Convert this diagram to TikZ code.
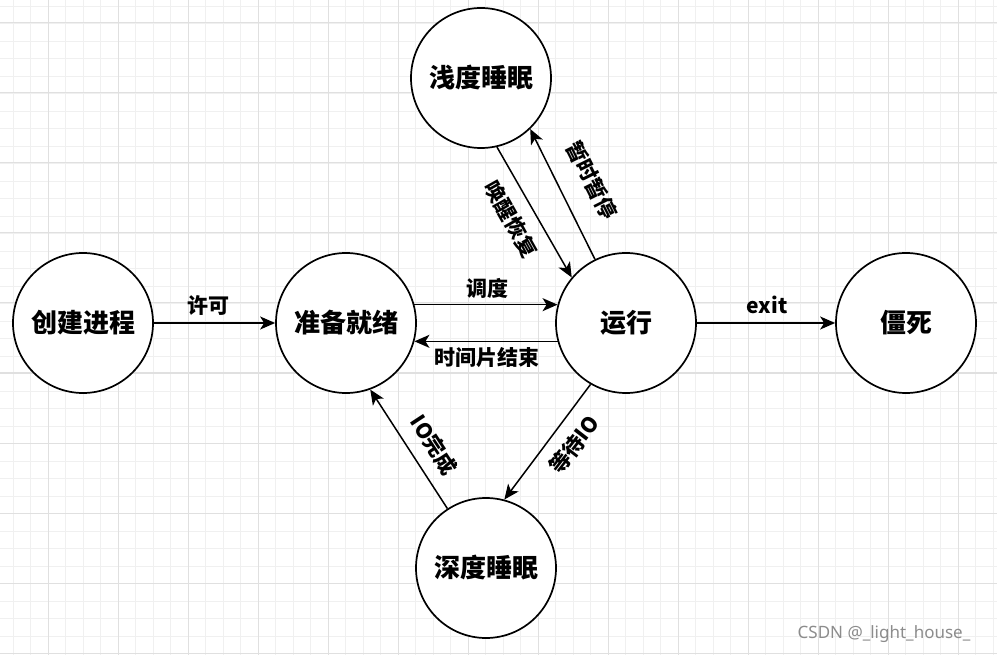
\documentclass[tikz,border=0pt]{standalone}
\usepackage{fontspec}
\newfontfamily\cjk{Noto Sans CJK SC}
\setmainfont{Noto Sans}
\usetikzlibrary{arrows.meta}
\begin{document}
\begin{tikzpicture}[x=1pt,y=-1pt,
  state/.style={circle, draw, line width=1.7pt, minimum size=140pt, inner sep=0pt, fill=white,
    font=\cjk\bfseries\fontsize{26}{30}\selectfont},
  arr/.style={-{Stealth[length=15pt,width=13pt,inset=4pt]}, line width=1.5pt},
  lbl/.style={font=\cjk\bfseries\fontsize{21}{25}\selectfont, inner sep=0pt},
  minorline/.style={draw=black!6, line width=0.8pt},
  majorline/.style={draw=black!12, line width=1pt}]
\useasboundingbox (0,0) rectangle (997,655);
\fill[white] (0,0) rectangle (997,655);
% grid
\foreach \i in {0,...,56} {\draw[minorline] ({13+17.5*\i},0) -- ({13+17.5*\i},655);}
\foreach \i in {0,...,37} {\draw[minorline] (0,{6+17.5*\i}) -- (997,{6+17.5*\i});}
\foreach \i in {0,...,13} {\draw[majorline] ({48+70*\i},0) -- ({48+70*\i},655);}
\foreach \i in {0,...,9} {\draw[majorline] (0,{23+70*\i}) -- (997,{23+70*\i});}
% states
\node[state] (create) at (83,323) {创建进程};
\node[state] (ready)  at (346,323) {准备就绪};
\node[state] (run)    at (626,323) {运行};
\node[state] (zombie) at (906,323) {僵死};
\node[state] (light)  at (481,78) {浅度睡眠};
\node[state] (deep)   at (486,568) {深度睡眠};
% connectors
\draw[arr] (create) -- (ready);
\draw[arr] (ready.15) -- (run.165);
\draw[arr] (run.195) -- (ready.-15);
\draw[arr] (run) -- (zombie);
\draw[arr] (light.-77) -- (run.140);
\draw[arr] (run.116) -- (light.-46);
\draw[arr] (run.240) -- (deep.75);
\draw[arr] (deep.123) -- (ready.-70);
% labels
\node[lbl] (lxk) at (208,306) {许可};
\node[lbl] (ldd) at (487,288) {调度};
\node[lbl] (lsj) at (487,358) {时间片结束};
\node[lbl] (lex) at (767,305) {exit};
\node[lbl, rotate=-60.7] (lhx) at (511,219) {唤醒恢复};
\node[lbl, rotate=-63.4] (lzs) at (592,180) {暂时暂停};
\node[lbl, rotate=52.3] (ldio) at (574,445) {等待IO};
\node[lbl, rotate=-56.7] (lio) at (434,445) {IO完成};
\node[text=black!45, font=\fontsize{17}{20}\selectfont, inner sep=0pt] (wm) at (884,634) {CSDN @\_light\_house\_};
\end{tikzpicture}
\end{document}
